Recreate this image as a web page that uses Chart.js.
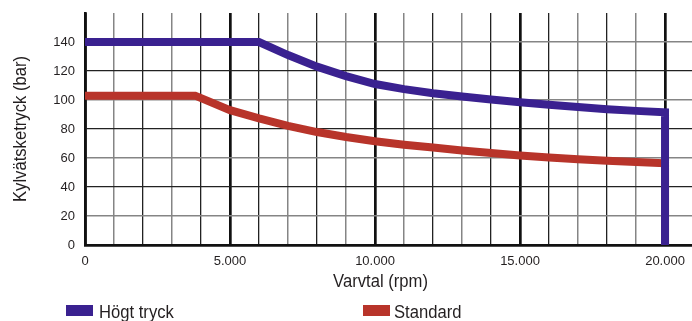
<!DOCTYPE html>
<html><head><meta charset="utf-8">
<script src="https://cdn.jsdelivr.net/npm/chart.js@4/dist/chart.umd.min.js"></script>
<style>
html,body{margin:0;padding:0;background:#fff;}
#wrap{position:relative;width:692px;height:321px;overflow:hidden;}
canvas{position:absolute;left:0;top:0;}
.leg{position:absolute;top:302px;font-family:"Liberation Sans",Arial,sans-serif;font-size:17.5px;color:#231f20;line-height:20px;white-space:nowrap;transform:scaleX(0.95);transform-origin:0 0;}
.box{position:absolute;top:305px;width:27px;height:11px;}
</style></head><body>
<div id="wrap"><canvas id="c" width="692" height="321"></canvas></div>
<script>
// ---- data ----
const xTitle = "Varvtal (rpm)";
const yTitle = "Kylvätsketryck (bar)";
const seriesNames = ["Högt tryck", "Standard"];
const seriesColors = ["#3a2190", "#b8342a"];

const hogtRpm = [0, 6000, 7000, 8000, 9000, 10000, 11000, 12000, 13000, 14000, 15000, 16000, 17000, 18000, 19000, 20000, 20000];
const hogtBar = [140, 140, 131, 123, 116.5, 111, 107.5, 104.7, 102.4, 100.4, 98.4, 96.7, 95.1, 93.7, 92.5, 91.5, 0];

const stdRpm = [0, 3800, 5000, 6000, 7000, 8000, 9000, 10000, 11000, 12000, 13000, 14000, 15000, 16000, 17000, 18000, 19000, 20000, 20000];
const stdBar = [103, 103, 93, 87.3, 82.2, 77.9, 74.5, 71.6, 69.2, 67.2, 65.2, 63.4, 61.8, 60.4, 59.2, 58.1, 57.2, 56.3, 0];

const xTickValues = [0,1000,2000,3000,4000,5000,6000,7000,8000,9000,10000,11000,12000,13000,14000,15000,16000,17000,18000,19000,20000];
const xTickLabels = {0:"0", 5000:"5.000", 10000:"10.000", 15000:"15.000", 20000:"20.000"};
const yTickValues = [0,20,40,60,80,100,120,140];
const yTickLabels = ["0","20","40","60","80","100","120","140"];

// ---- chart ----
const pts = (xs, ys) => xs.map((x, i) => ({x: x, y: ys[i]}));
const INK = "#231f20";
const TITLE_FONT = '17.5px "Liberation Sans", Arial, sans-serif';
const SQUEEZE = 0.95;

const axisTitles = {
  id: "axisTitles",
  afterDraw(chart) {
    const ctx = chart.ctx, a = chart.chartArea;
    ctx.save();
    ctx.font = TITLE_FONT;
    ctx.fillStyle = INK;
    ctx.textAlign = "center";
    ctx.textBaseline = "alphabetic";
    ctx.save();
    ctx.translate(380.5, a.bottom + 41.5);
    ctx.scale(SQUEEZE, 1);
    ctx.fillText(xTitle, 0, 0);
    ctx.restore();
    ctx.translate(26, (a.top + a.bottom) / 2);
    ctx.rotate(-Math.PI / 2);
    ctx.scale(SQUEEZE, 1);
    ctx.fillText(yTitle, 0, 0);
    ctx.restore();
  }
};

new Chart(document.getElementById("c"), {
  type: "line",
  data: {
    datasets: [
      {label: seriesNames[0], data: pts(hogtRpm, hogtBar), borderColor: seriesColors[0], backgroundColor: seriesColors[0]},
      {label: seriesNames[1], data: pts(stdRpm, stdBar), borderColor: seriesColors[1], backgroundColor: seriesColors[1]}
    ]
  },
  options: {
    responsive: false,
    animation: false,
    events: [],
    clip: 0,
    layout: {padding: {top: 13, left: 0, right: 0, bottom: 0}},
    elements: {
      line: {borderWidth: 8, tension: 0, borderJoinStyle: "miter", borderCapStyle: "butt", fill: false},
      point: {radius: 0}
    },
    plugins: {legend: {display: false}, tooltip: {enabled: false}},
    scales: {
      x: {
        type: "linear", min: 0, max: 20930,
        afterBuildTicks: s => { s.ticks = xTickValues.map(v => ({value: v})); },
        afterFit: s => { s.height = 76; s.paddingLeft = 0; s.paddingRight = 0; },
        ticks: {
          autoSkip: false, maxRotation: 0, padding: 9,
          color: INK, font: {family: '"Liberation Sans", Arial, sans-serif', size: 13},
          callback: v => xTickLabels[v] !== undefined ? xTickLabels[v] : ""
        },
        grid: {
          drawTicks: false,
          color: c => (c.tick.value % 5000 === 0) ? "#111" : ((c.tick.value / 1000) % 2 ? "#858585" : "#222"),
          lineWidth: c => (c.tick.value % 5000 === 0) ? 2.7 : ((c.tick.value / 1000) % 2 ? 1.5 : 1.3)
        },
        border: {display: true, color: "#111", width: 2.7}
      },
      y: {
        type: "linear", min: 0, max: 160,
        afterBuildTicks: s => { s.ticks = yTickValues.map(v => ({value: v})); },
        afterFit: s => { s.width = 85; s.paddingTop = 0; s.paddingBottom = 0; },
        ticks: {
          padding: 10, color: INK,
          font: {family: '"Liberation Sans", Arial, sans-serif', size: 13},
          callback: (v, i) => yTickLabels[i]
        },
        grid: {
          drawTicks: false,
          color: c => ((c.tick.value / 20) % 2 ? "#858585" : "#222"),
          lineWidth: c => ((c.tick.value / 20) % 2 ? 1.5 : 1.3)
        },
        border: {display: true, color: "#111", width: 2.7}
      }
    }
  },
  plugins: [axisTitles]
});

// legend (HTML text)
const wrap = document.getElementById("wrap");
const legPos = [[66, 99], [363, 394]];
seriesNames.forEach((name, i) => {
  const b = document.createElement("div");
  b.className = "box"; b.style.left = legPos[i][0] + "px"; b.style.background = seriesColors[i];
  wrap.appendChild(b);
  const t = document.createElement("div");
  t.className = "leg"; t.style.left = legPos[i][1] + "px"; t.textContent = name;
  wrap.appendChild(t);
});
</script>
</body></html>
